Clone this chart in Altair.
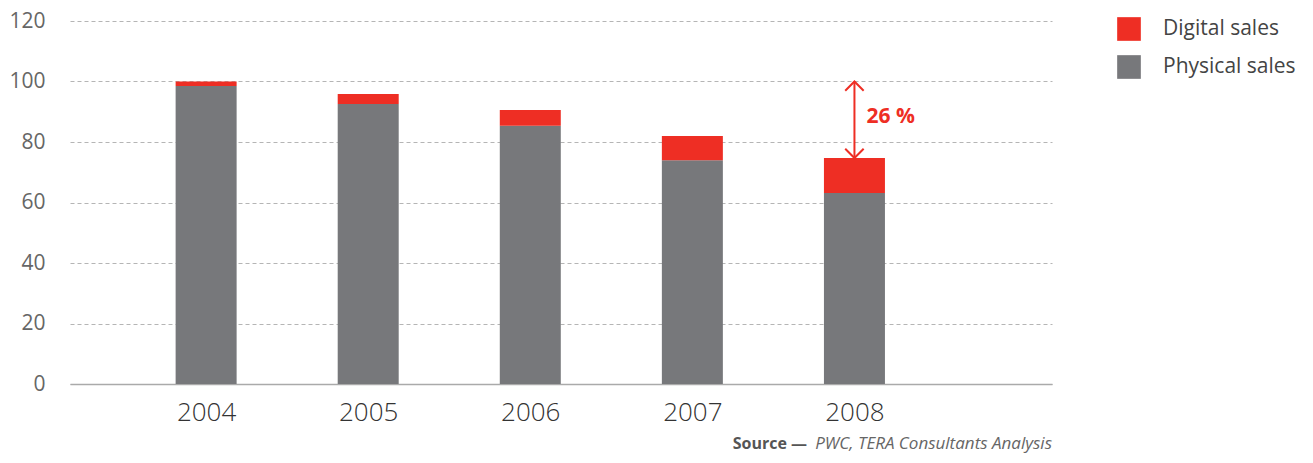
import altair as alt
import pandas as pd

years = [2004, 2005, 2006, 2007, 2008]
physical = [98.5, 92.6, 85.4, 74.0, 63.1]
digital = [1.5, 3.3, 5.2, 8.0, 11.6]
series = ["Digital sales", "Physical sales"]
colors = ["#ee2e24", "#77787b"]
y_ticks = [0, 20, 40, 60, 80, 100, 120]

rows = []
for yr, p, d in zip(years, physical, digital):
    rows.append({"year": yr, "series": "Physical sales", "value": p, "ord": 0})
    rows.append({"year": yr, "series": "Digital sales", "value": d, "ord": 1})
df = pd.DataFrame(rows)

arrow_df = pd.DataFrame({"year": [2008], "top": [100.0], "bottom": [physical[-1] + digital[-1]],
                         "label": ["26 %"], "mid": [88.1]})

FONT = "Open Sans"
RED = colors[0]

x_scale = alt.Scale(domain=[2003.191, 2009.188], nice=False, zero=False)
y_scale = alt.Scale(domain=[0, 120], nice=False)

bars = alt.Chart(df).mark_bar(size=61).encode(
    x=alt.X("year:Q", scale=x_scale,
            axis=alt.Axis(values=years, format="d", title=None, grid=False, ticks=False,
                          domain=True, domainColor="#aaaaaa", domainWidth=1.5,
                          labelFont=FONT, labelFontSize=26, labelColor="#333333",
                          labelPadding=15, labelFontWeight=300)),
    y=alt.Y("value:Q", stack="zero", scale=y_scale,
            axis=alt.Axis(values=y_ticks, title=None, domain=False, ticks=False,
                          grid=True, gridDash=[4, 3], gridColor="#b5b5b5", gridWidth=1,
                          labelFont=FONT, labelFontSize=21, labelColor="#666666",
                          labelPadding=25)),
    color=alt.Color("series:N", scale=alt.Scale(domain=series, range=colors),
                    legend=alt.Legend(title=None, orient="none", legendX=1047, legendY=-4,
                                      symbolType="square", symbolSize=560, symbolStrokeWidth=0,
                                      labelFont=FONT, labelFontSize=21, labelColor="#444444",
                                      labelOffset=22, rowPadding=14)),
    order=alt.Order("ord:Q", sort="ascending"),
)

rule = alt.Chart(arrow_df).mark_rule(color=RED, strokeWidth=2).encode(
    x=alt.X("year:Q", scale=x_scale), y="top:Q", y2="bottom:Q")

up_head = alt.Chart(arrow_df).mark_point(shape="M-1,1L0,0L1,1", filled=False, size=340,
                                         color=RED, strokeWidth=2, opacity=1).encode(
    x=alt.X("year:Q", scale=x_scale), y="top:Q")

down_head = alt.Chart(arrow_df).mark_point(shape="M-1,-1L0,0L1,-1", filled=False, size=340,
                                           color=RED, strokeWidth=2, opacity=1).encode(
    x=alt.X("year:Q", scale=x_scale), y="bottom:Q")

label = alt.Chart(arrow_df).mark_text(align="left", baseline="middle", dx=12, color=RED,
                                      font=FONT, fontSize=21, fontWeight="bold").encode(
    x=alt.X("year:Q", scale=x_scale), y="mid:Q", text="label:N")

src_bold = alt.Chart(arrow_df).mark_text(align="right", baseline="alphabetic", font=FONT,
                                         fontSize=16, fontWeight="bold", color="#555555",
                                         text="Source \u2014").encode(
    x=alt.value(737), y=alt.value(428))

src_it = alt.Chart(arrow_df).mark_text(align="right", baseline="alphabetic", font=FONT,
                                       fontSize=17, fontStyle="italic", color="#666666",
                                       text="PWC, TERA Consultants Analysis").encode(
    x=alt.value(982), y=alt.value(428))

chart = alt.layer(bars, rule, up_head, down_head, label, src_bold, src_it).properties(
    width=982, height=363,
    autosize=alt.AutoSizeParams(type="none"),
    padding={"left": 62, "top": 13, "right": 250, "bottom": 71},
).configure_view(stroke=None)

chart.save("out.html", embed_options={"renderer": "svg", "actions": False})
